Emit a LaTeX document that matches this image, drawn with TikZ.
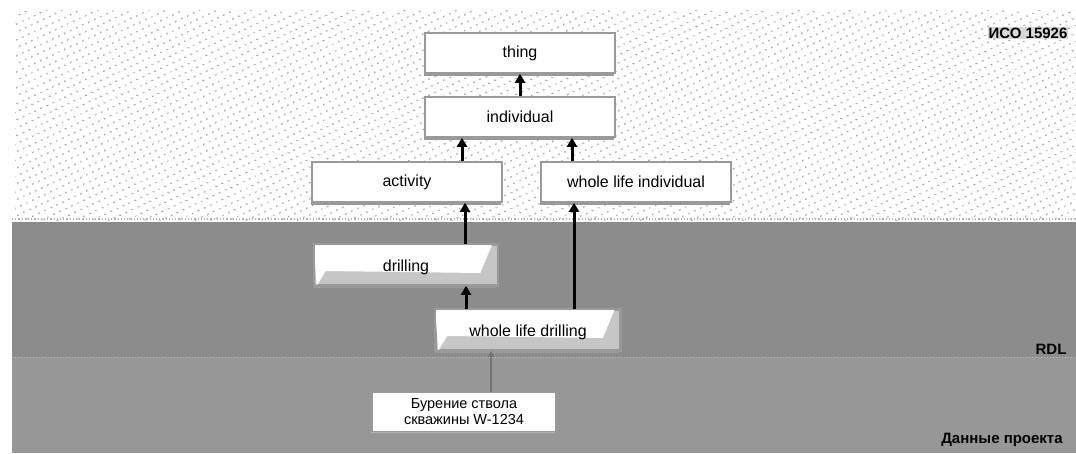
\documentclass[tikz,border=0pt]{standalone}
\usepackage{fontspec}
\setmainfont{Liberation Sans}
\usetikzlibrary{arrows.meta,patterns.meta,shadows}
\definecolor{midband}{HTML}{8C8C8C}
\definecolor{lowband}{HTML}{979797}
\definecolor{boxedge}{HTML}{9A9A9A}
\begin{document}
\begin{tikzpicture}[x=1pt,y=-1pt,
  cls/.style={draw=boxedge, line width=1.6pt, fill=white, minimum width=190pt, minimum height=40pt, inner sep=0pt,
    font=\fontsize{16}{18}\selectfont,
    drop shadow={shadow xshift=-1.5pt, shadow yshift=-2.5pt, fill=gray!80, opacity=1}},
  rdl/.style={cls, minimum width=184pt, fill=gray!45},
  arr/.style={line width=3pt, -{Triangle[length=9pt,width=10pt]}},
  thinarr/.style={draw=black!55, line width=1.1pt, -{Triangle[length=6pt,width=5.5pt]}},
  band/.style={font=\bfseries\fontsize{15}{17}\selectfont, inner sep=1pt}
]
\useasboundingbox (0,0) rectangle (1076,453);
\fill[white] (0,0) rectangle (1076,453);
% bands
\fill[pattern={Dots[distance=6.5pt, radius=0.9pt, angle=25]}, pattern color=black!45] (15,10) rectangle (1076,220);
\fill[midband] (12,222) rectangle (1076,357);
\fill[lowband] (12,357) rectangle (1076,453);
\draw[gray!50, dotted, line width=1pt] (12,357) -- (1076,357);
\draw[gray!60, dotted, line width=1.2pt] (12,219) -- (1076,219);

% ontology nodes
\node[cls] (thing) at (520,53) {thing};
\node[cls] (indiv) at (520,117) {individual};
\node[cls] (act) at (407,182) {activity};
\node[cls] (wli) at (636,182) {whole life individual};

% RDL nodes (white top with slanted grey lower part)
\node[rdl, minimum width=183pt] (drill) at (406,265) {};
\node[rdl] (wld) at (528,330) {};
\fill[white] (drill.north west) -- ([xshift=-6pt]drill.north east) -- ([xshift=-18pt,yshift=-8pt]drill.east) -- ([xshift=12pt,yshift=-6pt]drill.west) -- ([xshift=3pt]drill.south west) -- cycle;
\fill[white] (wld.north west) -- ([xshift=-6pt]wld.north east) -- ([xshift=-18pt,yshift=-8pt]wld.east) -- ([xshift=12pt,yshift=-6pt]wld.west) -- ([xshift=3pt]wld.south west) -- cycle;
\draw[boxedge, line width=1.6pt] (drill.north west) rectangle (drill.south east);
\draw[boxedge, line width=1.6pt] (wld.north west) rectangle (wld.south east);
\node[font=\fontsize{16}{18}\selectfont] (drilltxt) at ([yshift=-2pt]drill.center) {drilling};
\node[font=\fontsize{16}{18}\selectfont] (wldtxt) at ([yshift=-2pt]wld.center) {whole life drilling};

% project data node
\node[cls, minimum width=184pt, minimum height=39pt, align=center, font=\fontsize{14.5}{16}\selectfont,
  drop shadow={shadow xshift=-1pt, shadow yshift=-1.5pt, fill=gray!60, opacity=1}] (bur) at (464,412) {Бурение ствола\\скважины W-1234};

% connectors
\draw[arr] (indiv.north) -- (thing.south);
\draw[arr] ([xshift=55pt]act.north) -- ([xshift=55pt]act.north |- indiv.south);
\draw[arr] ([xshift=-64pt]wli.north) -- ([xshift=-64pt]wli.north |- indiv.south);
\draw[arr] ([xshift=59pt]drill.north) -- ([xshift=59pt]drill.north |- act.south);
\draw[arr] ([xshift=-62pt]wld.north) -- ([xshift=-62pt]wld.north |- drill.south);
\draw[arr] ([xshift=46pt]wld.north) -- ([xshift=46pt]wld.north |- wli.south);
\draw[thinarr] ([xshift=27pt]bur.north) -- ([xshift=27pt]bur.north |- wld.south);

% band labels
\node[band, fill=gray!30] (iso) at (1028,33) {ИСО 15926};
\node[band] (rdllab) at (1051,349) {RDL};
\node[band] (proj) at (1002,440) {Данные проекта};
\end{tikzpicture}
\end{document}
